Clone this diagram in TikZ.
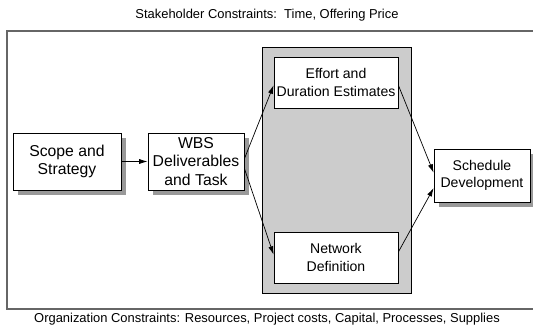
\documentclass[tikz,border=0pt]{standalone}
\usepackage{fontspec}
\setmainfont{Liberation Sans}
\usepackage{tikz}
\usetikzlibrary{arrows.meta,shadows}

\begin{document}
\begin{tikzpicture}[every node/.style={font=\fontsize{10}{12.5}\selectfont},
	taskbox/.style={draw, fill=white, line width=0.6pt, align=center, inner sep=0pt},
	bigtext/.style={font=\fontsize{11.2}{12.9}\selectfont},
	shadowed/.style={drop shadow={shadow xshift=0.125cm, shadow yshift=-0.125cm, fill=black!40, opacity=1}},
	caption/.style={font=\fontsize{9.2}{11}\selectfont},
	flow/.style={-{Latex[length=6pt,width=3.6pt]}, line width=0.5pt}]
	\useasboundingbox (0,0) rectangle (13.325,8.175);
	\draw[black!60, line width=0.9pt] (13.325,7.4) -- (0.175,7.4) -- (0.175,0.45) -- (13.325,0.45);
	\node[caption] (stake) at (6.675,7.8) {Stakeholder Constraints:\ \ Time, Offering Price};
	\node[caption] (org) at (6.675,0.2) {Organization Constraints: Resources, Project costs, Capital, Processes, Supplies};
	\fill[gray!40] (6.55,0.85) rectangle (10.275,7.0);
	\draw[black, line width=0.7pt] (6.55,0.85) rectangle (10.275,7.0);
	\node[taskbox, bigtext, shadowed, minimum width=2.7cm, minimum height=1.425cm] (scope) at (1.675,4.1375) {Scope and\\Strategy};
	\node[taskbox, bigtext, shadowed, minimum width=2.4cm, minimum height=1.425cm] (wbs) at (4.9,4.1375) {WBS\\Deliverables\\and Task};
	\node[taskbox, minimum width=3.1cm, minimum height=1.275cm] (effort) at (8.4,6.1125) {Effort and\\Duration Estimates};
	\node[taskbox, minimum width=3.1cm, minimum height=1.275cm] (network) at (8.4,1.7375) {Network\\Definition};
	\node[taskbox, shadowed, minimum width=2.4cm, minimum height=1.325cm] (sched) at (12.05,3.7875) {Schedule\\Development};
	\draw[flow] (scope.east) -- (wbs.west);
	\draw[flow] ([yshift=2pt]wbs.east) -- ([yshift=-2pt]effort.west);
	\draw[flow] ([yshift=-5pt]wbs.east) -- ([yshift=2pt]network.west);
	\draw[flow] ([yshift=-2pt]effort.east) -- ([yshift=2pt]sched.west);
	\draw[flow] ([yshift=4pt]network.east) -- ([yshift=-9pt]sched.west);
\end{tikzpicture}
\end{document}
